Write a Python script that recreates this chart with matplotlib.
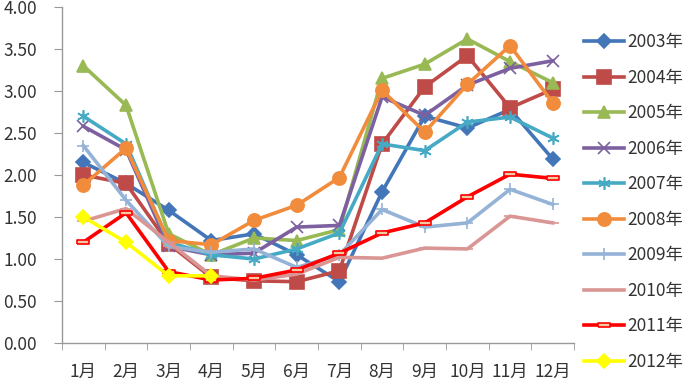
import matplotlib
matplotlib.use("Agg")
import matplotlib.pyplot as plt
import numpy as np

plt.rcParams['font.family'] = ['Noto Sans CJK SC', 'DejaVu Sans']

months = ["1月", "2月", "3月", "4月", "5月", "6月", "7月", "8月", "9月", "10月", "11月", "12月"]
years = ["2003年", "2004年", "2005年", "2006年", "2007年", "2008年", "2009年", "2010年", "2011年", "2012年"]

v2003 = [2.15, 1.90, 1.58, 1.22, 1.30, 1.05, 0.73, 1.80, 2.70, 2.56, 2.78, 2.19]
v2004 = [2.00, 1.90, 1.18, 0.78, 0.74, 0.73, 0.86, 2.37, 3.05, 3.42, 2.80, 3.02]
v2005 = [3.30, 2.83, 1.30, 1.05, 1.25, 1.22, 1.35, 3.15, 3.32, 3.62, 3.35, 3.10]
v2006 = [2.58, 2.30, 1.15, 1.05, 1.07, 1.38, 1.40, 2.93, 2.71, 3.07, 3.27, 3.36]
v2007 = [2.70, 2.37, 1.20, 1.05, 1.00, 1.12, 1.31, 2.37, 2.29, 2.63, 2.69, 2.44]
v2008 = [1.88, 2.32, 1.22, 1.17, 1.46, 1.64, 1.97, 3.01, 2.51, 3.08, 3.54, 2.86]
v2009 = [2.35, 1.70, 1.15, 1.08, 1.12, 0.90, 1.05, 1.59, 1.38, 1.43, 1.83, 1.65]
v2010 = [1.45, 1.60, 1.20, 0.80, 0.75, 0.82, 1.02, 1.01, 1.13, 1.12, 1.51, 1.43]
v2011 = [1.20, 1.55, 0.85, 0.75, 0.77, 0.87, 1.07, 1.31, 1.43, 1.74, 2.01, 1.96]
v2012 = [1.50, 1.20, 0.80, 0.80]

series = [v2003, v2004, v2005, v2006, v2007, v2008, v2009, v2010, v2011, v2012]

colors = ["#4276B8", "#BE4B48", "#98B954", "#7D60A0", "#46AAC5",
          "#F08C3C", "#95B3D7", "#D99694", "#FF0000", "#FFFF00"]
rect = [(-1, -0.3), (1, -0.3), (1, 0.3), (-1, 0.3), (-1, -0.3)]
markers = ["D", "s", "^", "x", (6, 2, 0), "o", "+", "_", rect, "D"]
msizes = [7.5, 9.5, 8.5, 8.5, 9, 9.5, 9, 8, 9, 7.5]
mfcs = [None] * 8 + ["#F2C9A0", None]

fig = plt.figure(figsize=(6.9, 3.83), dpi=100)
ax = fig.add_axes([0.0899, 0.1044, 0.832 - 0.0899, 0.9817 - 0.1044])

x = np.arange(len(months))
for vals, lab, c, m, ms, fc in zip(series, years, colors, markers, msizes, mfcs):
    xs = x[:len(vals)]
    kw = dict(color=c, lw=2.6, marker=m, markersize=ms, label=lab,
              markeredgecolor=c, markeredgewidth=1.2)
    if fc is not None:
        kw['markerfacecolor'] = fc
        kw['markeredgecolor'] = c
    ax.plot(xs, vals, **kw)

fs = 12.5
ax.set_xlim(-0.5, 11.5)
ax.set_ylim(0, 4.0)
ax.set_yticks(np.arange(0, 4.01, 0.5))
ax.set_yticklabels([f"{v:.2f}" for v in np.arange(0, 4.01, 0.5)], fontsize=fs, color="#333333")
ax.set_xticks(x)
ax.set_xticklabels(months, fontsize=fs, color="#333333")
ax.set_xticks(np.arange(-0.5, 12, 1), minor=True)
ax.tick_params(axis='x', which='major', length=0, pad=14)
ax.tick_params(axis='x', which='minor', length=5, color="#999999", direction='out')
ax.tick_params(axis='y', length=6, color="#999999", direction='out', pad=12)
for s in ["top", "right"]:
    ax.spines[s].set_visible(False)
for s in ["left", "bottom"]:
    ax.spines[s].set_color("#999999")
    ax.spines[s].set_linewidth(1.0)

leg = ax.legend(loc='upper left', bbox_to_anchor=(1.005, 0.943), frameon=False,
                fontsize=fs, handlelength=2.3, handletextpad=0.2,
                labelspacing=1.01, borderaxespad=0)
for t in leg.get_texts():
    t.set_color("#333333")

fig.savefig("out.png", dpi=100)
